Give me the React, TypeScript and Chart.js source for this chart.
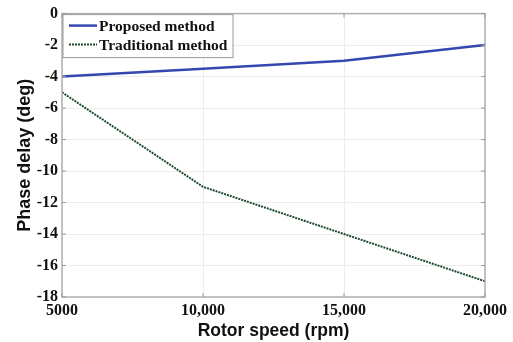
import React, { useEffect, useRef } from "react";
import { Chart, registerables } from "chart.js";

Chart.register(...registerables);

const speeds = [5000, 10000, 15000, 20000];
const proposed = [-4, -3.5, -3, -2];
const traditional = [-5, -11, -14, -17];
const xTicks = [5000, 10000, 15000, 20000];
const yTicks = [0, -2, -4, -6, -8, -10, -12, -14, -16, -18];

const serif = "'Liberation Serif', 'Times New Roman', serif";
const sans = "'Liberation Sans', Arial, sans-serif";
const tickFont = { family: serif, size: 16, weight: "bold" as const };

const fmtSpeed = (v: number) => (v === 5000 ? "5000" : v.toLocaleString("en-US"));

// Box frame, inward tick marks and an inset legend in the upper-left corner
const framePlugin = {
  id: "frame",
  afterDatasetsDraw(chart: any) {
    const { ctx, chartArea: a, scales } = chart;
    ctx.save();
    ctx.strokeStyle = "#b0b0b0";
    ctx.lineWidth = 1.5;
    ctx.strokeRect(a.left, a.top, a.right - a.left, a.bottom - a.top);
    ctx.strokeStyle = "#9a9a9a";
    ctx.lineWidth = 1;
    const t = 4;
    yTicks.forEach((v) => {
      const y = scales.y.getPixelForValue(v);
      ctx.beginPath();
      ctx.moveTo(a.left, y); ctx.lineTo(a.left + t, y);
      ctx.moveTo(a.right, y); ctx.lineTo(a.right - t, y);
      ctx.stroke();
    });
    xTicks.forEach((v) => {
      const x = scales.x.getPixelForValue(v);
      ctx.beginPath();
      ctx.moveTo(x, a.bottom); ctx.lineTo(x, a.bottom - t);
      ctx.moveTo(x, a.top); ctx.lineTo(x, a.top + t);
      ctx.stroke();
    });

    // legend
    const bx = a.left + 1, by = a.top + 1, bw = 170, bh = 43;
    ctx.fillStyle = "#ffffff";
    ctx.fillRect(bx, by, bw, bh);
    ctx.strokeStyle = "#9a9a9a";
    ctx.lineWidth = 1;
    ctx.strokeRect(bx, by, bw, bh);
    ctx.font = `bold 15.5px ${serif}`;
    ctx.textBaseline = "middle";
    chart.data.datasets.forEach((ds: any, i: number) => {
      const y = by + 11 + i * 19;
      ctx.strokeStyle = ds.borderColor;
      ctx.lineWidth = ds.borderWidth;
      ctx.setLineDash(ds.borderDash || []);
      ctx.beginPath();
      ctx.moveTo(bx + 6, y); ctx.lineTo(bx + 34, y);
      ctx.stroke();
      ctx.setLineDash([]);
      ctx.fillStyle = "#111111";
      ctx.fillText(ds.label, bx + 36, y + 1);
    });
    ctx.restore();
  },
};

export default function App() {
  const ref = useRef<HTMLCanvasElement>(null);
  useEffect(() => {
    document.body.style.margin = "0";
    const chart = new Chart(ref.current!, {
      type: "line",
      data: {
        datasets: [
          {
            label: "Proposed method",
            data: speeds.map((s, i) => ({ x: s, y: proposed[i] })),
            borderColor: "#3347b0",
            borderWidth: 2.5,
            pointRadius: 0,
            tension: 0,
          },
          {
            label: "Traditional method",
            data: speeds.map((s, i) => ({ x: s, y: traditional[i] })),
            borderColor: "#1d4a2c",
            borderWidth: 2,
            borderDash: [2, 1],
            pointRadius: 0,
            tension: 0,
          },
        ],
      },
      options: {
        animation: false,
        responsive: false,
        layout: { padding: { top: 13, right: 28, left: 0, bottom: 0 } },
        plugins: { legend: { display: false }, tooltip: { enabled: false } },
        scales: {
          x: {
            type: "linear",
            min: 5000,
            max: 20000,
            afterBuildTicks: (s: any) => { s.ticks = xTicks.map((v) => ({ value: v })); },
            afterFit: (s: any) => { s.height = 45; },
            ticks: { callback: (v: any) => fmtSpeed(Number(v)), font: tickFont, color: "#111", padding: 4, maxRotation: 0 },
            grid: { color: "#ececec", drawTicks: false, lineWidth: 1 },
            border: { display: false },
            title: { display: true, text: "Rotor speed (rpm)", font: { family: sans, size: 17.5, weight: "bold" }, color: "#111", padding: { top: 0, bottom: 0 } },
          },
          y: {
            min: -18,
            max: 0,
            afterBuildTicks: (s: any) => { s.ticks = yTicks.map((v) => ({ value: v })); },
            afterFit: (s: any) => { s.width = 62; },
            ticks: { font: tickFont, color: "#111", padding: 4 },
            grid: { color: "#ececec", drawTicks: false, lineWidth: 1 },
            border: { display: false },
            title: { display: true, text: "Phase delay (deg)", font: { family: sans, size: 18, weight: "bold" }, color: "#111", padding: { top: 14, bottom: 0 } },
          },
        },
      },
      plugins: [framePlugin],
    });
    return () => chart.destroy();
  }, []);
  return <canvas ref={ref} width={513} height={342} style={{ display: "block" }} />;
}
